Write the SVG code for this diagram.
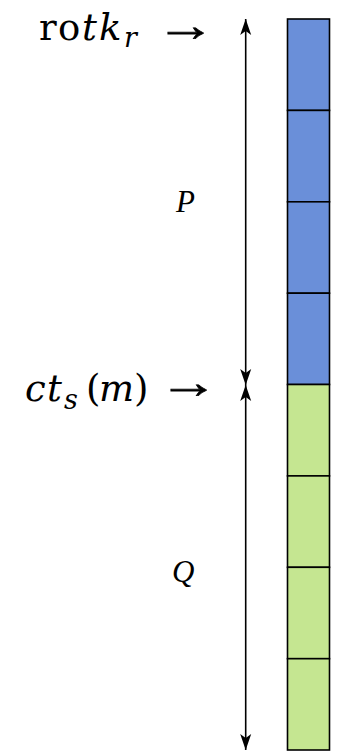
<svg xmlns="http://www.w3.org/2000/svg" width="342" height="752" viewBox="0 0 342 752">
<style>
.cell{stroke:#000;stroke-width:1.6}
.blue{fill:#6A8FD9}
.green{fill:#C5E691}
.math{font-family:"DejaVu Serif","Liberation Serif",serif;font-size:37px;fill:#000}
.it{font-style:italic}
.sub{font-style:italic;font-size:27px}
.arr{font-family:"Liberation Serif","DejaVu Serif",serif;font-size:46px;fill:#000;stroke:#000;stroke-width:0.7}
.lbl{font-family:"Liberation Serif","DejaVu Serif",serif;font-style:italic;font-size:31px;fill:#000}
.conn{stroke:#000;stroke-width:1.6;fill:none;marker-start:url(#ah);marker-end:url(#ah)}
</style>
<defs>
<marker id="ah" viewBox="-17 -6 18 12" refX="0" refY="0" markerWidth="18" markerHeight="12" markerUnits="userSpaceOnUse" orient="auto-start-reverse">
<path d="M0,0 L-16,-5.5 L-12,0 L-16,5.5 Z" fill="#000"/>
</marker>
</defs>
<g id="cells">
<g id="p1"><rect class="cell blue" x="287.5" y="19" width="42" height="91.4"/></g>
<g id="p2"><rect class="cell blue" x="287.5" y="110.4" width="42" height="91.4"/></g>
<g id="p3"><rect class="cell blue" x="287.5" y="201.8" width="42" height="91.4"/></g>
<g id="p4"><rect class="cell blue" x="287.5" y="293.2" width="42" height="91.3"/></g>
<g id="q1"><rect class="cell green" x="287.5" y="384.5" width="42" height="91.4"/></g>
<g id="q2"><rect class="cell green" x="287.5" y="475.9" width="42" height="91.4"/></g>
<g id="q3"><rect class="cell green" x="287.5" y="567.3" width="42" height="91.4"/></g>
<g id="q4"><rect class="cell green" x="287.5" y="658.7" width="42" height="91.3"/></g>
</g>
<g id="connectors">
<line class="conn" x1="245.7" y1="19" x2="245.7" y2="385"/>
<line class="conn" x1="245.7" y1="385" x2="245.7" y2="750"/>
</g>
<g id="label-rotk">
<text class="math" y="40"><tspan x="39">r</tspan><tspan x="58">o</tspan><tspan class="it" x="82">t</tspan><tspan class="it" x="99">k</tspan><tspan class="sub" x="124" y="47">r</tspan></text>
<text class="arr" transform="translate(156,41) scale(1.3,1)">→</text>
</g>
<g id="label-ct">
<text class="math" y="401"><tspan class="it" x="25">c</tspan><tspan class="it" x="47">t</tspan><tspan class="sub" x="64" y="409">s</tspan><tspan x="86" y="401">(</tspan><tspan class="it" x="99">m</tspan><tspan x="134">)</tspan></text>
<text class="arr" transform="translate(159,398) scale(1.3,1)">→</text>
</g>
<g id="label-P"><text class="lbl" x="176" y="212">P</text></g>
<g id="label-Q"><text class="lbl" x="172" y="582">Q</text></g>
</svg>
